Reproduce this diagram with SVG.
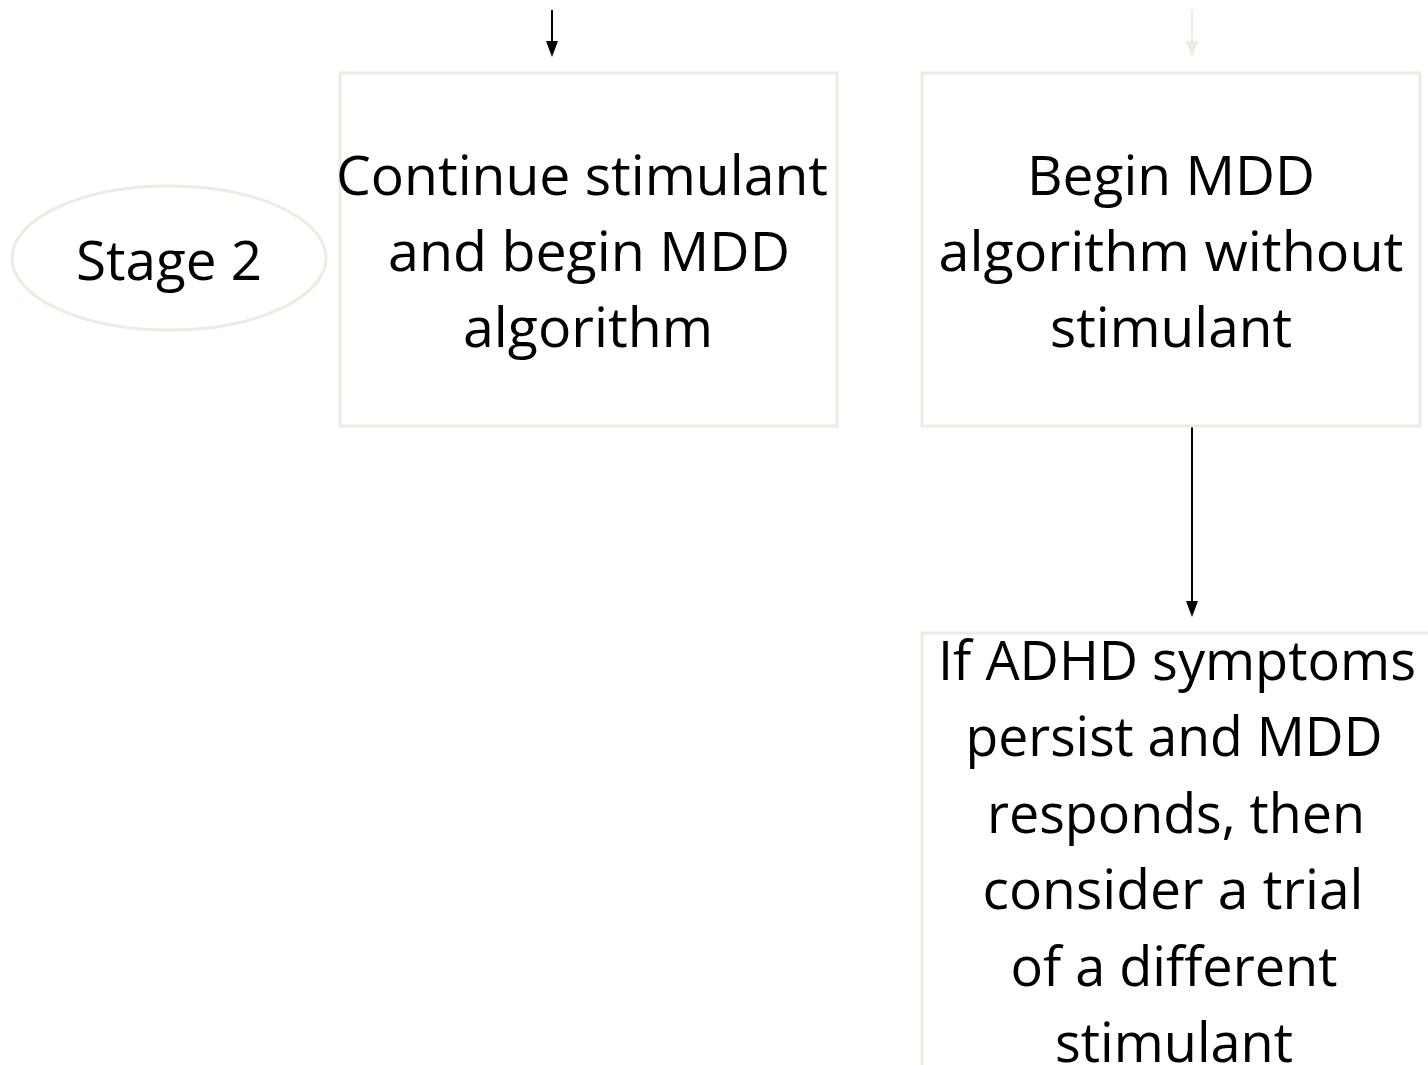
<svg xmlns="http://www.w3.org/2000/svg" width="1428" height="1065" viewBox="0 0 1428 1065">
<defs>
<style>
.box{fill:#ffffff;stroke:#eeece1;stroke-width:3}
.t{font-family:"Open Sans","Noto Sans","Liberation Sans",sans-serif;font-size:55px;fill:#000000;text-anchor:middle;font-variant-ligatures:none}
.c{stroke:#000000;stroke-width:2;fill:none}
.cl{stroke:#eeece1;stroke-width:2;fill:none}
</style>
<marker id="ah" viewBox="0 0 16 12" refX="12" refY="6" markerWidth="16" markerHeight="12" markerUnits="userSpaceOnUse" orient="auto">
<path d="M0,0 L16,6 L0,12 z" fill="#000000"/>
</marker>
<marker id="ahl" viewBox="0 0 16 12" refX="12" refY="6" markerWidth="16" markerHeight="12" markerUnits="userSpaceOnUse" orient="auto">
<path d="M0,0 L16,6 L0,12 z" fill="#eeece1"/>
</marker>
</defs>
<rect width="1428" height="1065" fill="#ffffff"/>
<g id="connectors">
<line class="c" x1="552" y1="10" x2="552" y2="53" marker-end="url(#ah)"/>
<line class="cl" x1="1192" y1="10" x2="1192" y2="53" marker-end="url(#ahl)"/>
<line class="c" x1="1192" y1="427" x2="1192" y2="613" marker-end="url(#ah)"/>
</g>
<g id="stage2">
<ellipse cx="169" cy="258" rx="157" ry="72" fill="#ffffff" stroke="#eeece1" stroke-width="3"/>
<text class="t" x="169" y="280" textLength="186" lengthAdjust="spacingAndGlyphs">Stage 2</text>
</g>
<g id="continue">
<rect class="box" x="340" y="73" width="497" height="353"/>
<text class="t" x="582" y="195" textLength="492" lengthAdjust="spacingAndGlyphs">Continue stimulant</text>
<text class="t" x="589" y="271" textLength="402" lengthAdjust="spacingAndGlyphs">and begin MDD</text>
<text class="t" x="588" y="347" textLength="250" lengthAdjust="spacingAndGlyphs">algorithm</text>
</g>
<g id="begin">
<rect class="box" x="922" y="73" width="498" height="353"/>
<text class="t" x="1171" y="195" textLength="288" lengthAdjust="spacingAndGlyphs">Begin MDD</text>
<text class="t" x="1171" y="271" textLength="465" lengthAdjust="spacingAndGlyphs">algorithm without</text>
<text class="t" x="1171" y="347" textLength="242" lengthAdjust="spacingAndGlyphs">stimulant</text>
</g>
<g id="ifadhd">
<rect class="box" x="922" y="633" width="530" height="500"/>
<text class="t" x="1177" y="680" textLength="478" lengthAdjust="spacingAndGlyphs">If ADHD symptoms</text>
<text class="t" x="1174" y="756" textLength="417" lengthAdjust="spacingAndGlyphs">persist and MDD</text>
<text class="t" x="1176" y="833" textLength="378" lengthAdjust="spacingAndGlyphs">responds, then</text>
<text class="t" x="1173" y="909" textLength="381" lengthAdjust="spacingAndGlyphs">consider a trial</text>
<text class="t" x="1174" y="986" textLength="327" lengthAdjust="spacingAndGlyphs">of a different</text>
<text class="t" x="1174" y="1062" textLength="238" lengthAdjust="spacingAndGlyphs">stimulant</text>
</g>
</svg>
